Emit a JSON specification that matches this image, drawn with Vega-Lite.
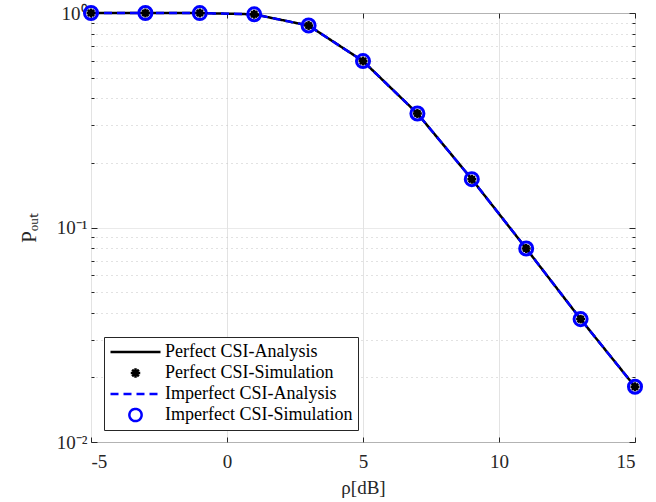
{
  "$schema": "https://vega.github.io/schema/vega-lite/v6.json",
  "width": 544,
  "height": 429,
  "autosize": {"type": "none"},
  "padding": {"left": 91, "top": 13, "right": 21, "bottom": 60},
  "background": "white",
  "config": {
    "view": {"stroke": "#262626", "strokeWidth": 1},
    "font": "Liberation Serif",
    "axis": {
      "labelFont": "Liberation Serif",
      "titleFont": "Liberation Serif",
      "labelColor": "#262626",
      "titleColor": "#262626",
      "tickColor": "#262626",
      "domain": false,
      "titleFontWeight": "normal",
      "labelFontSize": 19,
      "titleFontSize": 19
    },
    "legend": {
      "labelFont": "Liberation Serif"
    }
  },
  "data": {
    "values": [
      {"x": -5, "p": 1.0, "s": "Perfect CSI-Analysis"},
      {"x": -3, "p": 1.0, "s": "Perfect CSI-Analysis"},
      {"x": -1, "p": 0.999, "s": "Perfect CSI-Analysis"},
      {"x": 1, "p": 0.986, "s": "Perfect CSI-Analysis"},
      {"x": 3, "p": 0.874, "s": "Perfect CSI-Analysis"},
      {"x": 5, "p": 0.597, "s": "Perfect CSI-Analysis"},
      {"x": 7, "p": 0.340, "s": "Perfect CSI-Analysis"},
      {"x": 9, "p": 0.168, "s": "Perfect CSI-Analysis"},
      {"x": 11, "p": 0.0798, "s": "Perfect CSI-Analysis"},
      {"x": 13, "p": 0.0374, "s": "Perfect CSI-Analysis"},
      {"x": 15, "p": 0.0181, "s": "Perfect CSI-Analysis"},
      {"x": -5, "p": 1.0, "s": "Perfect CSI-Simulation"},
      {"x": -3, "p": 1.0, "s": "Perfect CSI-Simulation"},
      {"x": -1, "p": 0.999, "s": "Perfect CSI-Simulation"},
      {"x": 1, "p": 0.986, "s": "Perfect CSI-Simulation"},
      {"x": 3, "p": 0.874, "s": "Perfect CSI-Simulation"},
      {"x": 5, "p": 0.597, "s": "Perfect CSI-Simulation"},
      {"x": 7, "p": 0.340, "s": "Perfect CSI-Simulation"},
      {"x": 9, "p": 0.168, "s": "Perfect CSI-Simulation"},
      {"x": 11, "p": 0.0798, "s": "Perfect CSI-Simulation"},
      {"x": 13, "p": 0.0374, "s": "Perfect CSI-Simulation"},
      {"x": 15, "p": 0.0181, "s": "Perfect CSI-Simulation"},
      {"x": -5, "p": 1.0, "s": "Imperfect CSI-Analysis"},
      {"x": -3, "p": 1.0, "s": "Imperfect CSI-Analysis"},
      {"x": -1, "p": 0.999, "s": "Imperfect CSI-Analysis"},
      {"x": 1, "p": 0.986, "s": "Imperfect CSI-Analysis"},
      {"x": 3, "p": 0.874, "s": "Imperfect CSI-Analysis"},
      {"x": 5, "p": 0.597, "s": "Imperfect CSI-Analysis"},
      {"x": 7, "p": 0.340, "s": "Imperfect CSI-Analysis"},
      {"x": 9, "p": 0.168, "s": "Imperfect CSI-Analysis"},
      {"x": 11, "p": 0.0798, "s": "Imperfect CSI-Analysis"},
      {"x": 13, "p": 0.0374, "s": "Imperfect CSI-Analysis"},
      {"x": 15, "p": 0.0181, "s": "Imperfect CSI-Analysis"},
      {"x": -5, "p": 1.0, "s": "Imperfect CSI-Simulation"},
      {"x": -3, "p": 1.0, "s": "Imperfect CSI-Simulation"},
      {"x": -1, "p": 0.999, "s": "Imperfect CSI-Simulation"},
      {"x": 1, "p": 0.986, "s": "Imperfect CSI-Simulation"},
      {"x": 3, "p": 0.874, "s": "Imperfect CSI-Simulation"},
      {"x": 5, "p": 0.597, "s": "Imperfect CSI-Simulation"},
      {"x": 7, "p": 0.340, "s": "Imperfect CSI-Simulation"},
      {"x": 9, "p": 0.168, "s": "Imperfect CSI-Simulation"},
      {"x": 11, "p": 0.0798, "s": "Imperfect CSI-Simulation"},
      {"x": 13, "p": 0.0374, "s": "Imperfect CSI-Simulation"},
      {"x": 15, "p": 0.0181, "s": "Imperfect CSI-Simulation"}
    ]
  },
  "resolve": {"axis": {"x": "independent", "y": "independent"}},
  "layer": [
    {
      "transform": [{"filter": "datum.s == 'Perfect CSI-Analysis'"}],
      "mark": {"type": "line", "strokeWidth": 2.5, "clip": false},
      "encoding": {
        "x": {"field": "x", "type": "quantitative",
          "scale": {"domain": [-5, 15], "nice": false, "zero": false},
          "axis": {"orient": "bottom", "values": [-5, 0, 5, 10, 15], "title": "ρ[dB]",
            "labelExpr": "datum.value < 0 ? '-' + abs(datum.value) : '' + datum.value",
            "grid": true, "gridColor": "#e3e3e3", "tickSize": -5, "labelPadding": 15, "titlePadding": 7}},
        "y": {"field": "p", "type": "quantitative",
          "scale": {"type": "log", "domain": [0.01, 1], "nice": false},
          "axis": {"orient": "left", "title": "Pₒᵤₜ", "titleFontSize": 21, "titlePadding": 17,
            "values": [0.01, 0.02, 0.03, 0.04, 0.05, 0.06, 0.07, 0.08, 0.09, 0.1, 0.2, 0.3, 0.4, 0.5, 0.6, 0.7, 0.8, 0.9, 1],
            "labelExpr": "datum.value == 1 ? '10⁰' : datum.value == 0.1 ? '10⁻¹' : datum.value == 0.01 ? '10⁻²' : ''",
            "grid": true,
            "gridColor": {"condition": {"test": "datum.value == 1 || datum.value == 0.1 || datum.value == 0.01", "value": "#e3e3e3"}, "value": "#c4c4c4"},
            "gridDash": {"condition": {"test": "datum.value == 1 || datum.value == 0.1 || datum.value == 0.01", "value": [1, 0]}, "value": [1, 4]},
            "tickSize": {"condition": {"test": "datum.value == 1 || datum.value == 0.1 || datum.value == 0.01", "value": -6}, "value": -3},
            "labelPadding": 10}},
        "color": {"field": "s", "type": "nominal",
          "scale": {"domain": ["Perfect CSI-Analysis", "Perfect CSI-Simulation", "Imperfect CSI-Analysis", "Imperfect CSI-Simulation"],
            "range": ["black", "black", "#0000ff", "#0000ff"]},
          "legend": {"title": null, "orient": "none", "legendX": 13, "legendY": 324,
            "fillColor": "white", "strokeColor": "#262626", "padding": 5,
            "labelFontSize": 18, "labelColor": "black", "labelOffset": 3, "labelLimit": 400, "clipHeight": 20, "rowPadding": 1,
            "symbolSize": 2500, "symbolStrokeWidth": 2.5,
            "encode": {"symbols": {"update": {"size": {"signal": "datum.value == 'Perfect CSI-Simulation' ? 90 : datum.value == 'Imperfect CSI-Simulation' ? 150 : 2500"}}}}}},
        "strokeDash": {"field": "s", "type": "nominal",
          "scale": {"domain": ["Perfect CSI-Analysis", "Perfect CSI-Simulation", "Imperfect CSI-Analysis", "Imperfect CSI-Simulation"],
            "range": [[1, 0], [1, 0], [8, 5], [1, 0]]},
          "legend": {"title": null}}
      }
    },
    {
      "transform": [{"filter": "datum.s == 'Imperfect CSI-Analysis'"}],
      "mark": {"type": "line", "strokeWidth": 2.5, "clip": false},
      "encoding": {
        "x": {"field": "x", "type": "quantitative",
          "axis": {"orient": "top", "values": [-5, 0, 5, 10, 15], "title": null, "labels": false, "grid": false, "tickSize": -5}},
        "y": {"field": "p", "type": "quantitative",
          "axis": {"orient": "right", "title": null, "labels": false, "grid": false,
            "values": [0.01, 0.02, 0.03, 0.04, 0.05, 0.06, 0.07, 0.08, 0.09, 0.1, 0.2, 0.3, 0.4, 0.5, 0.6, 0.7, 0.8, 0.9, 1],
            "tickSize": {"condition": {"test": "datum.value == 1 || datum.value == 0.1 || datum.value == 0.01", "value": -6}, "value": -3}}},
        "color": {"field": "s", "type": "nominal"},
        "strokeDash": {"field": "s", "type": "nominal"}
      }
    },
    {
      "transform": [{"filter": "datum.s == 'Perfect CSI-Simulation'"}],
      "mark": {"type": "point", "filled": false, "strokeWidth": 2.5, "opacity": 1, "size": 80, "clip": false},
      "encoding": {
        "x": {"field": "x", "type": "quantitative", "axis": null},
        "y": {"field": "p", "type": "quantitative", "axis": null},
        "color": {"field": "s", "type": "nominal"},
        "shape": {"field": "s", "type": "nominal",
          "scale": {"domain": ["Perfect CSI-Analysis", "Perfect CSI-Simulation", "Imperfect CSI-Analysis", "Imperfect CSI-Simulation"],
            "range": ["stroke", "M-1,0L1,0M0,-1L0,1M-0.7,-0.7L0.7,0.7M-0.7,0.7L0.7,-0.7", "stroke", "circle"]},
          "legend": {"title": null}}
      }
    },
    {
      "transform": [{"filter": "datum.s == 'Imperfect CSI-Simulation'"}],
      "mark": {"type": "point", "filled": false, "strokeWidth": 3, "opacity": 1, "size": 170, "clip": false},
      "encoding": {
        "x": {"field": "x", "type": "quantitative", "axis": null},
        "y": {"field": "p", "type": "quantitative", "axis": null},
        "color": {"field": "s", "type": "nominal"},
        "shape": {"field": "s", "type": "nominal"}
      }
    }
  ]
}
